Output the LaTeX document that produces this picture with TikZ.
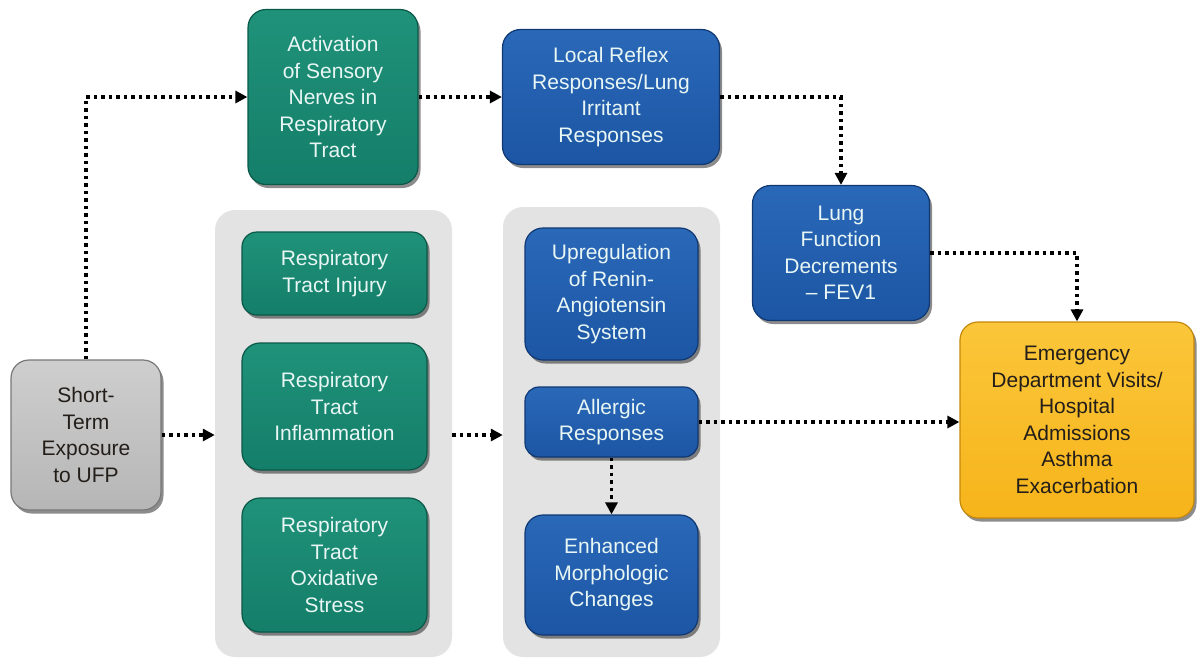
\documentclass[tikz,border=0pt]{standalone}
\usepackage{fontspec}
\setmainfont{Liberation Sans}
\usetikzlibrary{arrows.meta,shadows,calc}
\definecolor{grn}{RGB}{20,126,105}
\definecolor{grnT}{RGB}{32,146,122}
\definecolor{grnD}{RGB}{10,88,72}
\definecolor{blu}{RGB}{28,86,164}
\definecolor{bluT}{RGB}{42,104,184}
\definecolor{bluD}{RGB}{16,56,115}
\definecolor{org}{RGB}{246,180,26}
\definecolor{orgT}{RGB}{251,198,58}
\definecolor{orgD}{RGB}{196,136,10}
\definecolor{gryB}{RGB}{182,182,182}
\definecolor{gryT}{RGB}{206,206,206}
\definecolor{gryD}{RGB}{120,120,120}
\definecolor{pnl}{RGB}{227,227,227}
\definecolor{ltxt}{RGB}{232,246,244}
\definecolor{dtxt}{RGB}{35,30,25}
\tikzset{
  box/.style={rounded corners=18pt, align=center, inner sep=4pt, line width=1.2pt,
    font=\fontsize{21}{26.5}\selectfont,
    drop shadow={shadow xshift=2.5pt, shadow yshift=-3.5pt, opacity=0.45, fill=black}},
  greenbox/.style={box, draw=grnD, top color=grnT, bottom color=grn, text=ltxt},
  bluebox/.style={box, draw=bluD, top color=bluT, bottom color=blu, text=ltxt},
  orangebox/.style={box, draw=orgD, top color=orgT, bottom color=org, text=dtxt},
  graybox/.style={box, draw=gryD, top color=gryT, bottom color=gryB, text=dtxt},
  panel/.style={rounded corners=20pt, fill=pnl, draw=none},
  dotarrow/.style={line width=3.5pt, dash pattern=on 3.5pt off 4pt, line cap=butt,
    -{Triangle[length=12pt,width=12pt]}, black}
}
\begin{document}
\begin{tikzpicture}[x=1pt,y=-1pt]
\useasboundingbox (0,0) rectangle (1198,659);
% panels
\node[panel, minimum width=237pt, minimum height=447pt] (p1) at (333.5,433.5) {};
\node[panel, minimum width=217pt, minimum height=450pt] (p2) at (611.5,432) {};
% boxes
\node[graybox, minimum width=150pt, minimum height=150pt] (st) at (86,435)
  {Short-\\Term\\Exposure\\to UFP};
\node[greenbox, minimum width=170pt, minimum height=175pt] (act) at (333,97)
  {Activation\\of Sensory\\Nerves in\\Respiratory\\Tract};
\node[bluebox, minimum width=217pt, minimum height=135pt] (lrr) at (611,97)
  {Local Reflex\\Responses/Lung\\Irritant\\Responses};
\node[bluebox, minimum width=177pt, minimum height=135pt] (lung) at (841,253)
  {Lung\\Function\\Decrements\\– FEV1};
\node[orangebox, minimum width=234pt, minimum height=196pt] (ed) at (1077,420)
  {Emergency\\Department Visits/\\Hospital\\Admissions\\Asthma\\Exacerbation};
\node[greenbox, minimum width=185pt, minimum height=83pt, rounded corners=15pt] (inj) at (334.5,273.5)
  {Respiratory\\Tract Injury};
\node[greenbox, minimum width=185pt, minimum height=127pt] (infl) at (334.5,406.5)
  {Respiratory\\Tract\\Inflammation};
\node[greenbox, minimum width=185pt, minimum height=134pt] (oxi) at (334.5,565)
  {Respiratory\\Tract\\Oxidative\\Stress};
\node[bluebox, minimum width=173pt, minimum height=132pt] (up) at (611.5,294)
  {Upregulation\\of Renin-\\Angiotensin\\System};
\node[bluebox, minimum width=173pt, minimum height=70pt, rounded corners=14pt] (all) at (611.5,422)
  {Allergic\\Responses};
\node[bluebox, minimum width=173pt, minimum height=120pt] (enh) at (611.5,575)
  {Enhanced\\Morphologic\\Changes};
% connectors
\draw[dotarrow] (st.north) |- (act.west);
\draw[dotarrow] (act.east) -- (act.east -| lrr.west);
\draw[dotarrow] (lrr.east) -| (lung.north);
\draw[dotarrow] (lung.east) -| (ed.north);
\draw[dotarrow] (all.east) -- (all.east -| ed.west);
\draw[dotarrow] (st.east) -- (st.east -| p1.west);
\draw[dotarrow] (p1.east |- st.east) -- (p2.west |- st.east);
\draw[dotarrow] (all.south) -- (enh.north);
\end{tikzpicture}
\end{document}
